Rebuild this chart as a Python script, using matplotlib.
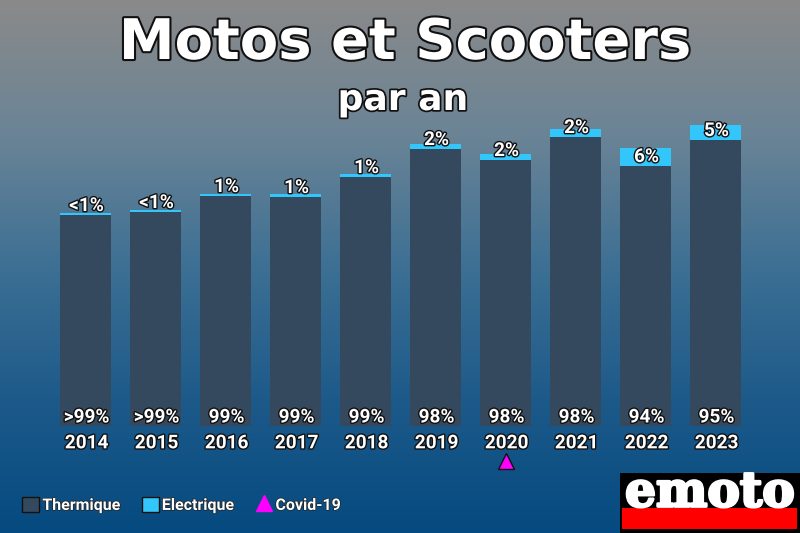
import numpy as np
import matplotlib
matplotlib.use("Agg")
import matplotlib.pyplot as plt
import matplotlib.patheffects as pe
from matplotlib.colors import LinearSegmentedColormap
from matplotlib.lines import Line2D
from matplotlib.patches import Patch, Rectangle

years = ["2014", "2015", "2016", "2017", "2018", "2019", "2020", "2021", "2022", "2023"]
thermique = [211, 214, 230, 229, 249, 277, 266, 289, 260, 286]
electrique = [2, 2, 2, 3, 3, 5, 6, 8, 18, 15]
pct_thermique = [">99%", ">99%", "99%", "99%", "99%", "98%", "98%", "98%", "94%", "95%"]
pct_electrique = ["<1%", "<1%", "1%", "1%", "1%", "2%", "2%", "2%", "6%", "5%"]
covid_year = "2020"

W, H = 800, 533
DARK = "#34495e"
BLUE = "#33c6fb"

plt.rcParams["font.family"] = ["Roboto", "DejaVu Sans"]
outline = [pe.withStroke(linewidth=2, foreground="#111111")]

fig = plt.figure(figsize=(W / 100, H / 100), dpi=100)

# background gradient, grey at the top to blue at the bottom
bg = fig.add_axes([0, 0, 1, 1], zorder=0)
cmap = LinearSegmentedColormap.from_list(
    "bg", ["#8a8a8a", "#6b8496", "#3d7094", "#1d5a8a", "#054a80"])
bg.imshow(np.linspace(0, 1, 256).reshape(-1, 1), aspect="auto", cmap=cmap)
bg.axis("off")

# main axes: one y unit is one pixel, baseline at 426 px from the top
ax = fig.add_axes([0, (H - 426) / H, 1, 426 / H], zorder=1)
ax.patch.set_alpha(0)
x = np.arange(len(years))
ax.set_xlim(-85.5 / 70, (W - 85.5) / 70)
ax.set_ylim(0, 426)
ax.bar(x, thermique, width=51 / 70, color=DARK)
ax.bar(x, electrique, bottom=thermique, width=51 / 70, color=BLUE)

for i in x:
    ax.text(i + 0.015, thermique[i] + 9, pct_electrique[i], ha="center", va="center",
            color="white", fontsize=13.7, fontweight="bold", path_effects=outline)
    ax.text(i + 0.015, 8.5, pct_thermique[i], ha="center", va="center",
            color="white", fontsize=13.7, fontweight="bold", path_effects=outline)

ax.set_xticks(x + 0.015, years, fontsize=13.7, fontweight="bold", color="white")
ax.tick_params(axis="x", length=0, pad=6)
for lab in ax.get_xticklabels():
    lab.set_path_effects(outline)
ax.set_yticks([])
for s in ax.spines.values():
    s.set_visible(False)

# covid marker under the year
ax.plot(years.index(covid_year), -35, marker="^", ms=12, mfc="#ff00ff", mec="#111111",
        mew=1, clip_on=False, ls="none")

fig.text(405 / W, 1 - 44 / H, "Motos et Scooters", ha="center", va="center", color="white",
         fontsize=40.3, fontweight="bold", family="DejaVu Sans",
         path_effects=[pe.withStroke(linewidth=3, foreground="#111111")])
fig.text(403 / W, 1 - 100 / H, "par an", ha="center", va="center", color="white",
         fontsize=26, fontweight="bold", family="DejaVu Sans",
         path_effects=[pe.withStroke(linewidth=2.5, foreground="#111111")])

handles = [
    Patch(fc=DARK, ec="#111111", label="Thermique"),
    Patch(fc=BLUE, ec="#111111", label="Electrique"),
    Line2D([], [], marker="^", ls="none", ms=12, mfc="#ff00ff", mec="#ff00ff", label="Covid-19"),
]
leg = fig.legend(handles=handles, loc="center left", bbox_to_anchor=(8 / W, 1 - 505 / H),
                 ncol=3, frameon=False, handlelength=1.05, handleheight=1.05, handletextpad=0.2,
                 columnspacing=1.34, prop={"weight": "bold", "size": 11.5})
for t in leg.get_texts():
    t.set_color("white")
    t.set_path_effects([pe.withStroke(linewidth=1, foreground="#222222")])

# logo box
logo = fig.add_axes([620 / W, 0, 180 / W, 60 / H], zorder=2)
logo.set_xlim(0, 180)
logo.set_ylim(60, 0)
logo.axis("off")
logo.add_patch(Rectangle((0, 0), 180, 60, fc="black", ec="none"))
logo.add_patch(Rectangle((2, 35), 175, 21, fc="#ff0000", ec="none"))
logo.text(90, 20, "emoto", ha="center", va="center", color="white", fontsize=35,
          fontweight="bold", family="DejaVu Serif",
          path_effects=[pe.withStroke(linewidth=2, foreground="white")])

fig.savefig("out.png", dpi=100)
